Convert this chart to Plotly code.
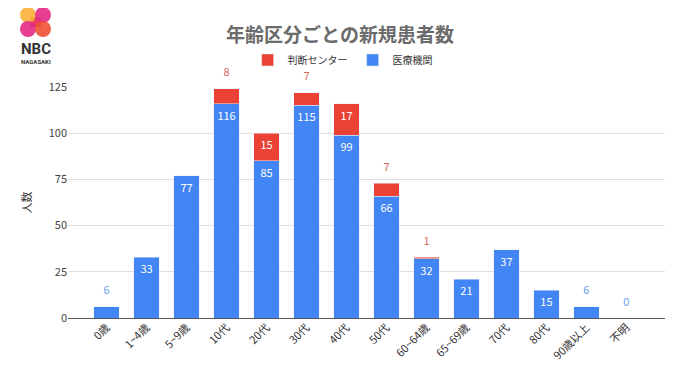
import plotly.graph_objects as go

categories = ["0歳", "1~4歳", "5~9歳", "10代", "20代", "30代", "40代", "50代",
              "60~64歳", "65~69歳", "70代", "80代", "90歳以上", "不明"]
iryo = [6, 33, 77, 116, 85, 115, 99, 66, 32, 21, 37, 15, 6, 0]
handan = [None, None, None, 8, 15, 7, 17, 7, 1, None, None, None, None, None]
y_ticks = [0, 25, 50, 75, 100, 125]

BLUE = "#4285F4"
RED = "#EA4335"
INSIDE_MIN = 10  # segments smaller than this get the label above the stack

totals = [b + (r or 0) for b, r in zip(iryo, handan)]

blue_in = [str(v) if v >= INSIDE_MIN else "" for v in iryo]
red_in = [str(v) if (v is not None and v >= INSIDE_MIN) else "" for v in handan]

out_x_blue, out_y_blue, out_t_blue = [], [], []
out_x_red, out_y_red, out_t_red = [], [], []
for c, b, r, t in zip(categories, iryo, handan, totals):
    if r is None and b < INSIDE_MIN:
        out_x_blue.append(c); out_y_blue.append(t); out_t_blue.append(str(b))
    if r is not None and r < INSIDE_MIN:
        out_x_red.append(c); out_y_red.append(t); out_t_red.append(str(r))

fig = go.Figure()
fig.add_trace(go.Bar(
    x=categories, y=iryo, name="医療機関", marker_color=BLUE,
    text=blue_in, textposition="inside", insidetextanchor="end",
    textfont=dict(color="white", size=11), constraintext="none",
    hoverinfo="x+y",
))
fig.add_trace(go.Bar(
    x=categories, y=handan, name="判断センター", marker_color=RED,
    text=red_in, textposition="inside", insidetextanchor="end",
    textfont=dict(color="white", size=11), constraintext="none",
    hoverinfo="x+y",
))
for xs, ys, ts, col in [(out_x_blue, out_y_blue, out_t_blue, "#6d9eeb"),
                        (out_x_red, out_y_red, out_t_red, "#d8685a")]:
    fig.add_trace(go.Scatter(
        x=xs, y=ys, text=ts, mode="markers+text",
        marker=dict(size=14, color="rgba(0,0,0,0)"),
        textposition="top center", textfont=dict(color=col, size=11),
        showlegend=False, cliponaxis=False, hoverinfo="skip",
    ))

# logo shapes (decoration); offsets in px from the plot's top-left corner
logo_circles = [
    (-40, 72, "#F9B03A"), (-25, 72, "#E42A84"),
    (-40, 58, "#E42A84"), (-25, 58, "#EE5033"),
]
shapes = [dict(
    type="rect", xref="paper", yref="paper", xanchor=0, yanchor=1,
    xsizemode="pixel", ysizemode="pixel",
    x0=-38, x1=-27, y0=60, y1=70, fillcolor="#EA3D5E", line=dict(width=0), layer="above",
)]
for cx, cy, col in logo_circles:
    shapes.append(dict(
        type="circle", xref="paper", yref="paper", xanchor=0, yanchor=1,
        xsizemode="pixel", ysizemode="pixel",
        x0=cx - 8, x1=cx + 8, y0=cy - 8, y1=cy + 8,
        fillcolor=col, line=dict(width=0), opacity=0.9, layer="above",
    ))

fig.update_layout(
    width=680, height=382,
    margin=dict(l=60, r=23, t=79, b=72, autoexpand=False),
    paper_bgcolor="white", plot_bgcolor="white",
    barmode="stack", bargap=0.36,
    font=dict(family="Noto Sans CJK JP, Roboto, sans-serif", color="#444"),
    title=dict(text="<b>年齢区分ごとの新規患者数</b>", x=332 / 680, xref="container",
               y=1 - 27 / 382, yref="container", yanchor="middle",
               font=dict(size=19, color="#6b6b6b")),
    legend=dict(orientation="h", x=0.46, xanchor="center", y=1.117, yanchor="middle",
                font=dict(size=10, color="#333"), traceorder="reversed",
                itemwidth=30, bgcolor="rgba(0,0,0,0)"),
    shapes=shapes,
    annotations=[
        dict(text="<b>NBC</b>", xref="paper", yref="paper", x=-32 / 597, y=1 + 38 / 231,
             showarrow=False, font=dict(size=15, color="#333", family="Roboto, sans-serif"),
             xanchor="center", yanchor="middle"),
        dict(text="<b>NAGASAKI</b>", xref="paper", yref="paper", x=-32 / 597, y=1 + 26 / 231,
             showarrow=False, font=dict(size=6, color="#333", family="Roboto, sans-serif"),
             xanchor="center", yanchor="middle"),
    ],
    xaxis=dict(tickangle=-45, tickfont=dict(size=11, color="#333"), showgrid=False,
               showline=False, ticks="", automargin=False),
    yaxis=dict(range=[0, 125], tickvals=y_ticks, tickfont=dict(size=11, color="#444"),
               gridcolor="#e0e0e0", zeroline=True, zerolinecolor="#555", zerolinewidth=1,
               title=dict(text="人数", font=dict(size=11, color="#333"), standoff=14),
               ticks="", showline=False, automargin=False),
)

fig.write_html("out.html")
